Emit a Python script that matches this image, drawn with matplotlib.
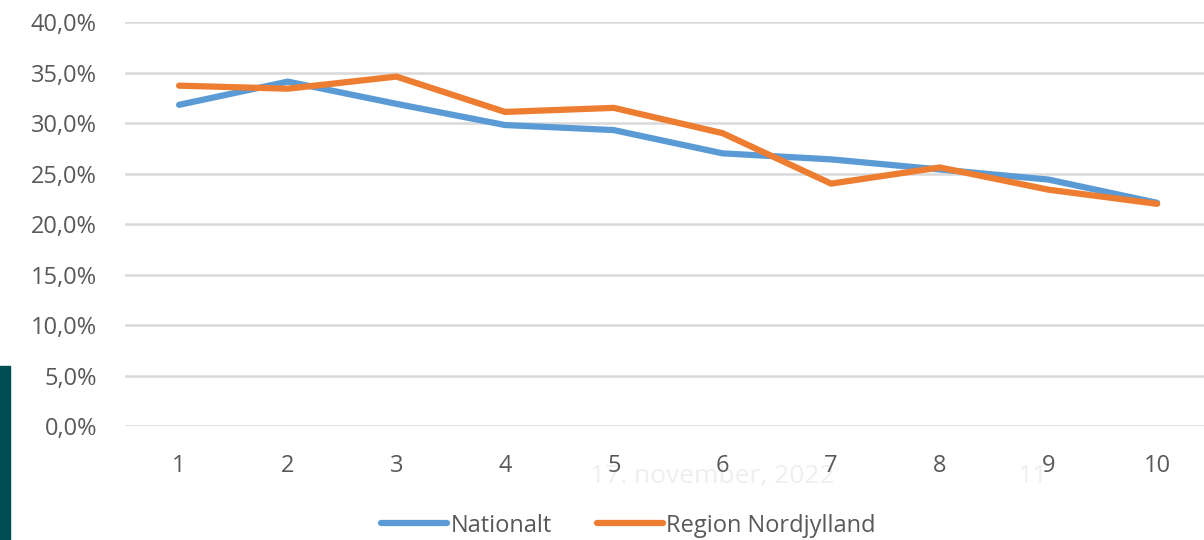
import matplotlib.pyplot as plt
from matplotlib.ticker import FuncFormatter
from matplotlib.patches import Rectangle

# values in percent
uger = [1, 2, 3, 4, 5, 6, 7, 8, 9, 10]
nationalt = [31.8, 34.1, 31.9, 29.8, 29.3, 27.0, 26.4, 25.4, 24.4, 22.1]
nordjylland = [33.7, 33.4, 34.6, 31.1, 31.5, 29.0, 24.0, 25.6, 23.4, 22.0]

plt.rcParams['font.family'] = ['Open Sans', 'DejaVu Sans']
txt = '#595959'
fs = 17

fig = plt.figure(figsize=(12.04, 5.4), dpi=100)
ax = fig.add_axes([0.1036, 0.2111, 0.9026, 0.7481])

ax.plot(uger, nationalt, color='#5B9BD5', lw=4.5, solid_capstyle='round',
        solid_joinstyle='round', label='Nationalt')
ax.plot(uger, nordjylland, color='#ED7D31', lw=4.5, solid_capstyle='round',
        solid_joinstyle='round', label='Region Nordjylland')

ax.set_xlim(0.5, 10.5)
ax.set_ylim(0, 40)
ax.set_xticks(uger)
ax.set_yticks(range(0, 41, 5))
ax.yaxis.set_major_formatter(FuncFormatter(lambda v, p: f'{v:.1f}%'.replace('.', ',')))
ax.grid(axis='y', color='#D9D9D9', lw=1.8)
ax.set_axisbelow(True)
for s in ax.spines.values():
    s.set_visible(False)
ax.tick_params(axis='both', length=0, labelsize=fs, colors=txt)
ax.tick_params(axis='y', pad=20)
ax.tick_params(axis='x', pad=20)

# slide background bits
fig.text(0.49, 0.105, '17. november, 2022', color='#EFEFEF', fontsize=19, zorder=-1)
fig.text(0.845, 0.105, '11', color='#EFEFEF', fontsize=19, zorder=-1)
fig.patches.append(Rectangle((0, 0), 10 / 1204, 174 / 540, transform=fig.transFigure,
                             color='#004E54', figure=fig))

fig.legend(loc='lower center', bbox_to_anchor=(0.522, -0.035), ncol=2, frameon=False,
           fontsize=fs, labelcolor=txt, handlelength=2.8, handletextpad=0.15,
           columnspacing=1.9)

fig.savefig('out.png', dpi=100)
